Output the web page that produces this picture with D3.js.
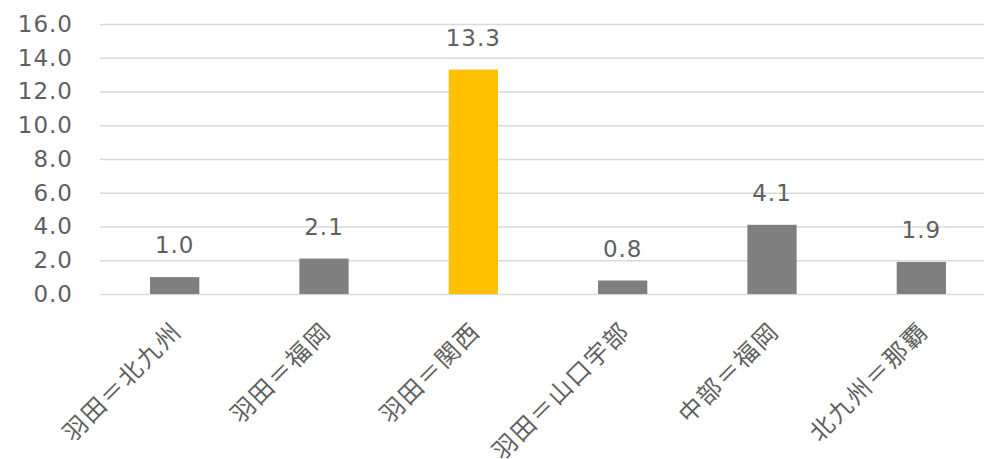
<!DOCTYPE html>
<html><head><meta charset="utf-8">
<script src="https://cdn.jsdelivr.net/npm/d3@7"></script>
<style>body{margin:0;background:#fff;}svg{display:block;}</style>
</head><body>
<svg id="chart" width="984" height="459"></svg>
<script>
const categories = ["羽田＝北九州","羽田＝福岡","羽田＝関西","羽田＝山口宇部","中部＝福岡","北九州＝那覇"];
const values = [1.0, 2.1, 13.3, 0.8, 4.1, 1.9];
const highlight = ["羽田＝関西"];
const yTicks = [0,2,4,6,8,10,12,14,16];

const svg = d3.select("#chart");
const x = d3.scaleBand().domain(categories).range([100, 996]).paddingInner(0.67).paddingOuter(0.335);
const y = d3.scaleLinear().domain([0,16]).range([294, 24]);

const numFont = "'DejaVu Sans', Verdana, sans-serif";
const cjkFont = "'Noto Sans CJK JP', sans-serif";
const textCol = "#5f5f5f";

// gridlines
const yAxis = d3.axisLeft(y).tickValues(yTicks).tickFormat(d3.format(".1f")).tickSize(0).tickPadding(0);
const gy = svg.append("g").attr("transform","translate(100,0)").call(yAxis);
gy.select(".domain").remove();
gy.selectAll(".tick line").attr("x2", 900).attr("stroke","#d9d9d9").attr("stroke-width",1.6);
gy.selectAll(".tick text").attr("x",-27).attr("fill",textCol)
  .style("font-family",numFont).style("font-size","23px").style("letter-spacing","1px");

// bars
svg.append("g").selectAll("rect").data(categories).join("rect")
  .attr("x", d=>x(d)).attr("width", x.bandwidth())
  .attr("y", (d,i)=>y(values[i])).attr("height",(d,i)=>y(0)-y(values[i]))
  .attr("fill", d=>highlight.includes(d) ? "#ffc000" : "#7f7f7f");

// value labels
svg.append("g").selectAll("text").data(categories).join("text")
  .attr("x", d=>x(d)+x.bandwidth()/2)
  .attr("y", (d,i)=>y(values[i])-24)
  .attr("text-anchor","middle").attr("fill",textCol)
  .style("font-family",numFont).style("font-size","23px").style("letter-spacing","1px")
  .text((d,i)=>d3.format(".1f")(values[i]));

// category axis
const xAxis = d3.axisBottom(x).tickSize(0).tickPadding(0);
const gx = svg.append("g").attr("transform","translate(0,294)").call(xAxis);
gx.select(".domain").remove();
gx.selectAll(".tick text")
  .attr("fill",textCol).attr("y",0).attr("dy",0)
  .style("font-family",cjkFont).style("font-size","24px").style("letter-spacing","2px")
  .attr("text-anchor","end").attr("dominant-baseline","middle")
  .attr("transform","translate(4,34) rotate(-45)");
</script>
</body></html>
